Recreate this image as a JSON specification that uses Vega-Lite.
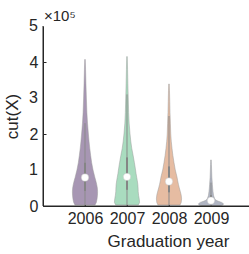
{
  "$schema": "https://vega.github.io/schema/vega-lite/v6.json",
  "width": 206,
  "height": 180,
  "autosize": {"type": "none"},
  "padding": {"left": 43, "top": 26, "right": 0, "bottom": 48},
  "config": {
    "font": "Liberation Sans",
    "view": {"stroke": null},
    "axis": {"domain": true, "domainColor": "#262626", "ticks": true, "tickColor": "#262626", "labelOverlap": false, "grid": false}
  },
  "datasets": {
    "violin": [
      {"year": 2006, "v": 3000, "w": 0.8},
      {"year": 2006, "v": 10000, "w": 0.9},
      {"year": 2006, "v": 20000, "w": 0.96},
      {"year": 2006, "v": 30000, "w": 0.99},
      {"year": 2006, "v": 40000, "w": 1.0},
      {"year": 2006, "v": 50000, "w": 0.98},
      {"year": 2006, "v": 60000, "w": 0.93},
      {"year": 2006, "v": 70000, "w": 0.86},
      {"year": 2006, "v": 80000, "w": 0.78},
      {"year": 2006, "v": 90000, "w": 0.71},
      {"year": 2006, "v": 100000, "w": 0.64},
      {"year": 2006, "v": 120000, "w": 0.53},
      {"year": 2006, "v": 140000, "w": 0.45},
      {"year": 2006, "v": 160000, "w": 0.38},
      {"year": 2006, "v": 180000, "w": 0.32},
      {"year": 2006, "v": 200000, "w": 0.27},
      {"year": 2006, "v": 230000, "w": 0.2},
      {"year": 2006, "v": 260000, "w": 0.15},
      {"year": 2006, "v": 300000, "w": 0.11},
      {"year": 2006, "v": 340000, "w": 0.075},
      {"year": 2006, "v": 380000, "w": 0.045},
      {"year": 2006, "v": 407000, "w": 0.02},
      {"year": 2007, "v": 3000, "w": 0.9},
      {"year": 2007, "v": 10000, "w": 1.0},
      {"year": 2007, "v": 20000, "w": 0.97},
      {"year": 2007, "v": 30000, "w": 0.92},
      {"year": 2007, "v": 40000, "w": 0.89},
      {"year": 2007, "v": 50000, "w": 0.88},
      {"year": 2007, "v": 60000, "w": 0.86},
      {"year": 2007, "v": 70000, "w": 0.82},
      {"year": 2007, "v": 80000, "w": 0.77},
      {"year": 2007, "v": 90000, "w": 0.72},
      {"year": 2007, "v": 100000, "w": 0.68},
      {"year": 2007, "v": 120000, "w": 0.59},
      {"year": 2007, "v": 140000, "w": 0.49},
      {"year": 2007, "v": 160000, "w": 0.38},
      {"year": 2007, "v": 180000, "w": 0.3},
      {"year": 2007, "v": 200000, "w": 0.24},
      {"year": 2007, "v": 230000, "w": 0.17},
      {"year": 2007, "v": 260000, "w": 0.13},
      {"year": 2007, "v": 300000, "w": 0.1},
      {"year": 2007, "v": 340000, "w": 0.07},
      {"year": 2007, "v": 380000, "w": 0.045},
      {"year": 2007, "v": 415000, "w": 0.02},
      {"year": 2008, "v": 3000, "w": 0.88},
      {"year": 2008, "v": 10000, "w": 0.97},
      {"year": 2008, "v": 20000, "w": 1.0},
      {"year": 2008, "v": 30000, "w": 0.97},
      {"year": 2008, "v": 40000, "w": 0.9},
      {"year": 2008, "v": 50000, "w": 0.82},
      {"year": 2008, "v": 60000, "w": 0.75},
      {"year": 2008, "v": 70000, "w": 0.69},
      {"year": 2008, "v": 80000, "w": 0.64},
      {"year": 2008, "v": 90000, "w": 0.57},
      {"year": 2008, "v": 100000, "w": 0.5},
      {"year": 2008, "v": 120000, "w": 0.4},
      {"year": 2008, "v": 140000, "w": 0.31},
      {"year": 2008, "v": 160000, "w": 0.24},
      {"year": 2008, "v": 180000, "w": 0.18},
      {"year": 2008, "v": 200000, "w": 0.14},
      {"year": 2008, "v": 230000, "w": 0.11},
      {"year": 2008, "v": 260000, "w": 0.08},
      {"year": 2008, "v": 290000, "w": 0.06},
      {"year": 2008, "v": 320000, "w": 0.04},
      {"year": 2008, "v": 339000, "w": 0.02},
      {"year": 2009, "v": 1000, "w": 0.75},
      {"year": 2009, "v": 3000, "w": 0.95},
      {"year": 2009, "v": 6000, "w": 1.0},
      {"year": 2009, "v": 10000, "w": 0.85},
      {"year": 2009, "v": 13000, "w": 0.6},
      {"year": 2009, "v": 16000, "w": 0.4},
      {"year": 2009, "v": 20000, "w": 0.3},
      {"year": 2009, "v": 25000, "w": 0.24},
      {"year": 2009, "v": 30000, "w": 0.2},
      {"year": 2009, "v": 40000, "w": 0.16},
      {"year": 2009, "v": 50000, "w": 0.13},
      {"year": 2009, "v": 60000, "w": 0.11},
      {"year": 2009, "v": 70000, "w": 0.09},
      {"year": 2009, "v": 80000, "w": 0.07},
      {"year": 2009, "v": 100000, "w": 0.05},
      {"year": 2009, "v": 115000, "w": 0.035},
      {"year": 2009, "v": 128000, "w": 0.02}
    ],
    "stats": [
      {"year": 2006, "lo": 0, "q1": 42000, "median": 79000, "q3": 120000, "hi": 230000},
      {"year": 2007, "lo": 0, "q1": 45000, "median": 81000, "q3": 135000, "hi": 310000},
      {"year": 2008, "lo": 0, "q1": 38000, "median": 68000, "q3": 110000, "hi": 250000},
      {"year": 2009, "lo": 0, "q1": 7000, "median": 15000, "q3": 30000, "hi": 65000}
    ],
    "note": [
      {"year": 2005, "v": 500000, "label": "×10⁵"}
    ],
    "frame": [
      {"xa": 2005, "xb": 2005, "ya": 0, "yb": 500000},
      {"xa": 2005, "xb": 2009.905, "ya": 0, "yb": 0}
    ],
    "ylabels": [
      {"year": 2005, "v": 100000, "label": "1"},
      {"year": 2005, "v": 300000, "label": "3"},
      {"year": 2005, "v": 500000, "label": "5"}
    ]
  },
  "layer": [
    {
      "data": {"name": "violin"},
      "transform": [
        {"calculate": "datum.year - 0.3 * datum.w", "as": "left"},
        {"calculate": "datum.year + 0.3 * datum.w", "as": "right"}
      ],
      "mark": {"type": "area", "orient": "horizontal", "opacity": 1, "stroke": "#9a9a9a", "strokeWidth": 0.6, "strokeOpacity": 0.8},
      "encoding": {
        "y": {
          "field": "v",
          "type": "quantitative",
          "scale": {"domain": [0, 500000], "nice": false, "zero": true},
          "axis": {"values": [0, 100000, 200000, 300000, 400000, 500000], "labelExpr": "format(datum.value / 100000, 'd')", "labelOverlap": false, "labelFontSize": 16, "labelColor": "#262626", "labelPadding": 8, "domain": true, "domainColor": "#262626", "domainWidth": 1, "ticks": true, "tickColor": "#262626", "tickSize": -3, "grid": false, "title": "cut(X)", "titleFontSize": 17, "titleFontWeight": "normal", "titleColor": "#262626", "titlePadding": 8}
        },
        "x": {
          "field": "left",
          "type": "quantitative",
          "scale": {"domain": [2005, 2009.905], "nice": false, "zero": false},
          "axis": {"values": [2006, 2007, 2008, 2009], "format": "d", "labelOverlap": false, "labelFontSize": 16, "labelColor": "#262626", "labelPadding": 7, "domain": true, "domainColor": "#262626", "domainWidth": 1, "ticks": true, "tickColor": "#262626", "tickSize": -3, "grid": false, "title": "Graduation year", "titleFontSize": 17, "titleFontWeight": "normal", "titleColor": "#262626", "titleX": 125, "titleY": 40, "titleBaseline": "alphabetic", "titleAlign": "center"}
        },
        "x2": {"field": "right"},
        "color": {
          "field": "year",
          "type": "nominal",
          "scale": {"domain": [2006, 2007, 2008, 2009], "range": ["#a796b3", "#a9dcbf", "#e6bca2", "#b0b5c3"]},
          "legend": null
        }
      }
    },
    {
      "data": {"name": "stats"},
      "mark": {"type": "rule", "color": "#8a8a8a", "strokeWidth": 1},
      "encoding": {
        "x": {"field": "year", "type": "quantitative"},
        "y": {"field": "lo", "type": "quantitative"},
        "y2": {"field": "hi"}
      }
    },
    {
      "data": {"name": "stats"},
      "mark": {"type": "rule", "color": "#858585", "strokeWidth": 2},
      "encoding": {
        "x": {"field": "year", "type": "quantitative"},
        "y": {"field": "q1", "type": "quantitative"},
        "y2": {"field": "q3"}
      }
    },
    {
      "data": {"name": "stats"},
      "mark": {"type": "point", "filled": true, "shape": "circle", "color": "white", "size": 55, "opacity": 1, "stroke": "#bdbdbd", "strokeWidth": 0.4},
      "encoding": {
        "x": {"field": "year", "type": "quantitative"},
        "y": {"field": "median", "type": "quantitative"}
      }
    },
    {
      "data": {"name": "frame"},
      "mark": {"type": "rule", "color": "#262626", "strokeWidth": 1},
      "encoding": {
        "x": {"field": "xa", "type": "quantitative"},
        "x2": {"field": "xb"},
        "y": {"field": "ya", "type": "quantitative"},
        "y2": {"field": "yb"}
      }
    },
    {
      "data": {"name": "ylabels"},
      "mark": {"type": "text", "align": "right", "baseline": "middle", "dx": -5, "fontSize": 16, "color": "#262626", "font": "Liberation Sans"},
      "encoding": {
        "x": {"field": "year", "type": "quantitative"},
        "y": {"field": "v", "type": "quantitative"},
        "text": {"field": "label"}
      }
    },
    {
      "data": {"name": "note"},
      "mark": {"type": "text", "align": "left", "baseline": "alphabetic", "dy": -5, "dx": 1, "fontSize": 15, "color": "#262626", "font": "Liberation Sans"},
      "encoding": {
        "x": {"field": "year", "type": "quantitative"},
        "y": {"field": "v", "type": "quantitative"},
        "text": {"field": "label"}
      }
    }
  ]
}
